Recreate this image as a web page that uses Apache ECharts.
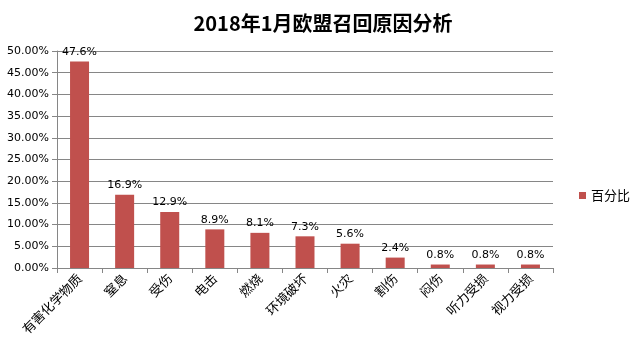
<!DOCTYPE html>
<html>
<head>
<meta charset="utf-8">
<script src="https://cdn.jsdelivr.net/npm/echarts@6/dist/echarts.min.js"></script>
<style>
html,body{margin:0;padding:0;background:#fff;}
#chart{width:639px;height:349px;}
</style>
</head>
<body>
<div id="chart"></div>
<script>
// Recall causes, January 2018 (EU)
const categories = ['有害化学物质', '窒息', '受伤', '电击', '燃烧', '环境破坏', '火灾', '割伤', '闷伤', '听力受损', '视力受损'];
const shares = [47.6, 16.9, 12.9, 8.9, 8.1, 7.3, 5.6, 2.4, 0.8, 0.8, 0.8];
const seriesName = '百分比';
const yTicks = [0, 5, 10, 15, 20, 25, 30, 35, 40, 45, 50];

const chart = echarts.init(document.getElementById('chart'));
chart.setOption({
  animation: false,
  backgroundColor: '#fff',
  title: {
    text: '2018年1月欧盟召回原因分析',
    left: 318,
    textAlign: 'center',
    top: 8,
    textStyle: { fontFamily: '"Noto Sans CJK SC", sans-serif', fontSize: 20, fontWeight: 'bold', color: '#000' }
  },
  legend: {
    data: [seriesName],
    right: 4,
    top: 184,
    orient: 'vertical',
    icon: 'rect',
    itemWidth: 7,
    itemHeight: 7,
    itemGap: 4,
    textStyle: { fontFamily: '"Noto Sans CJK SC", sans-serif', fontSize: 13, color: '#000' }
  },
  grid: { left: 57, right: 86, top: 51, bottom: 81, containLabel: false },
  xAxis: {
    type: 'category',
    data: categories,
    axisLine: { lineStyle: { color: '#868686' } },
    axisTick: { show: true, alignWithLabel: false, length: 5, lineStyle: { color: '#868686' } },
    axisLabel: {
      rotate: 45,
      interval: 0,
      margin: 8,
      fontFamily: '"Noto Sans CJK SC", serif',
      fontSize: 13,
      color: '#000'
    }
  },
  yAxis: {
    type: 'value',
    min: yTicks[0],
    max: yTicks[yTicks.length - 1],
    interval: 5,
    axisLine: { show: true, lineStyle: { color: '#868686' } },
    axisTick: { show: true, length: 5, inside: false, lineStyle: { color: '#868686' } },
    splitLine: { lineStyle: { color: '#868686', width: 1 } },
    axisLabel: {
      formatter: v => v.toFixed(2) + '%',
      fontFamily: '"DejaVu Sans", Verdana, sans-serif',
      fontSize: 11,
      color: '#000',
      margin: 8
    }
  },
  series: [{
    name: seriesName,
    type: 'bar',
    data: shares,
    barWidth: 19,
    itemStyle: { color: '#C0504D' },
    label: {
      show: true,
      position: 'top',
      distance: 4,
      formatter: p => p.value.toFixed(1) + '%',
      fontFamily: '"DejaVu Sans", Verdana, sans-serif',
      fontSize: 11,
      color: '#000'
    }
  }]
});
</script>
</body>
</html>
